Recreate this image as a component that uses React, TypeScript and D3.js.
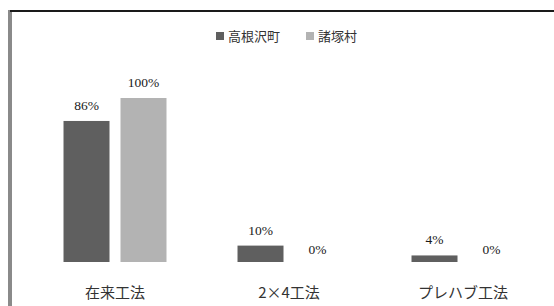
import React from "react";
import * as d3 from "d3";

const categories = ["在来工法", "2×4工法", "プレハブ工法"];
const seriesNames = ["高根沢町", "諸塚村"];
const takanezawa = [86, 10, 4];
const morotsuka = [100, 0, 0];
const colors = ["#5f5f5f", "#b3b3b3"];

const W = 554;
const H = 306;

export default function App() {
  const x0 = d3.scaleBand<string>().domain(categories).range([28, 550]).paddingInner(0).paddingOuter(0);
  const x1 = d3.scaleBand<string>().domain(seriesNames).range([0, x0.bandwidth()]).paddingInner(0.193).paddingOuter(0.623);
  const y = d3.scaleLinear().domain([0, 100]).range([262, 98]);
  const series = [takanezawa, morotsuka];

  return (
    <svg width={W} height={H} style={{ position: "absolute", left: 0, top: 0, background: "#fff" }}>
      <rect x={0} y={0} width={W} height={H} fill="#fff" />
      <rect x={8} y={10} width={4} height={H - 10} fill="#8a8a8a" />
      <rect x={10} y={10} width={W - 10} height={2} fill="#1a1a1a" />
      {/* legend */}
      <g fontFamily="'Noto Sans CJK JP', sans-serif" fontSize={13} fill="#333">
        <rect x={216} y={32} width={8} height={8} fill={colors[0]} />
        <text x={228} y={41}>{seriesNames[0]}</text>
        <rect x={306} y={32} width={8} height={8} fill={colors[1]} />
        <text x={318} y={41}>{seriesNames[1]}</text>
      </g>
      {categories.map((c, ci) => (
        <g key={c} transform={`translate(${x0(c)},0)`}>
          {seriesNames.map((s, si) => {
            const v = series[si][ci];
            const bx = x1(s)!;
            return (
              <g key={s}>
                {v > 0 && (
                  <rect x={bx} y={y(v)} width={x1.bandwidth()} height={y(0) - y(v)} fill={colors[si]} />
                )}
                <text
                  x={bx + x1.bandwidth() / 2}
                  y={y(v) - (v === 0 ? 8 : 11)}
                  textAnchor="middle"
                  fontFamily="'Liberation Serif', serif"
                  fontSize={13.5}
                  fill="#1a1a1a"
                >
                  {v}%
                </text>
              </g>
            );
          })}
          <text
            x={x0.bandwidth() / 2}
            y={298}
            textAnchor="middle"
            fontFamily="'Noto Sans CJK JP', sans-serif"
            fontSize={15}
            fill="#333"
          >
            {c}
          </text>
        </g>
      ))}
    </svg>
  );
}
